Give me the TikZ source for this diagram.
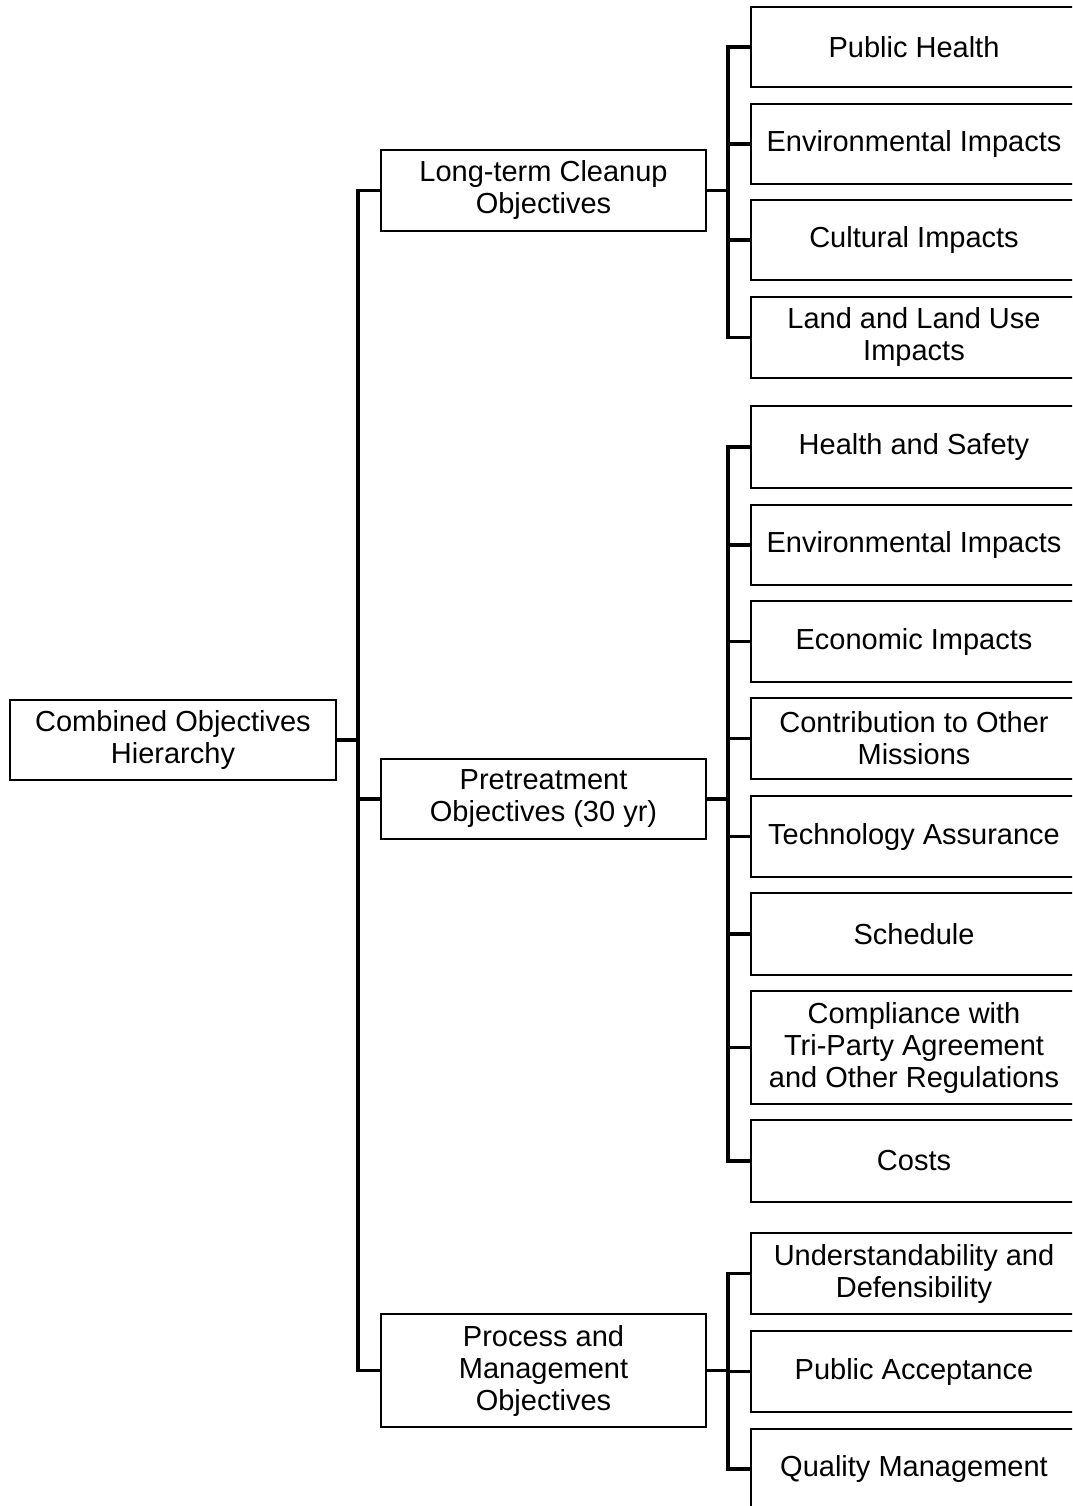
\documentclass[tikz,border=0pt]{standalone}
\usepackage{fontspec}
\setmainfont{Liberation Sans}
\begin{document}
\begin{tikzpicture}[x=1pt,y=-1pt,
  objbox/.style={draw, line width=2pt, inner sep=0pt, align=center,
    minimum width=326pt, font=\fontsize{29}{32}\selectfont},
  conn/.style={line width=3.5pt, line join=miter, line cap=rect}]
\useasboundingbox (0,0) rectangle (1072,1506);
\clip (0,0) rectangle (1072,1506);
\fill[white] (0,0) rectangle (1072,1506);

% spine positions
\coordinate (s1) at (358,0);
\coordinate (s2) at (728,0);

% root
\node[objbox, minimum height=80pt] (root) at (173,740) {Combined Objectives\\Hierarchy};

% second level
\node[objbox, minimum width=325pt, minimum height=81pt] (lt) at (543.5,190.5) {Long-term Cleanup\\Objectives};
\node[objbox, minimum width=325pt, minimum height=80pt] (pt) at (543.5,799) {Pretreatment\\Objectives (30 yr)};
\node[objbox, minimum width=325pt, minimum height=113pt] (pm) at (543.5,1370.5) {Process and\\Management\\Objectives};

% third level (right edges run past the page)
\node[objbox, minimum height=80pt] (ph)  at (914,47)     {Public Health};
\node[objbox, minimum height=80pt] (ei1) at (914,144)    {Environmental Impacts};
\node[objbox, minimum height=80pt] (ci)  at (914,240)    {Cultural Impacts};
\node[objbox, minimum height=81pt] (llu) at (914,337.5)  {Land and Land Use\\Impacts};

\node[objbox, minimum height=82pt] (hs)  at (914,447)    {Health and Safety};
\node[objbox, minimum height=80pt] (ei2) at (914,545)    {Environmental Impacts};
\node[objbox, minimum height=81pt] (eci) at (914,641.5)  {Economic Impacts};
\node[objbox, minimum height=81pt] (com) at (914,738.5)  {Contribution to Other\\Missions};
\node[objbox, minimum height=81pt] (ta)  at (914,836.5)  {Technology Assurance};
\node[objbox, minimum height=82pt] (sch) at (914,934)    {Schedule};
\node[objbox, minimum height=113pt] (cmp) at (914,1047.5) {Compliance with\\Tri-Party Agreement\\and Other Regulations};
\node[objbox, minimum height=82pt] (cst) at (914,1161)   {Costs};

\node[objbox, minimum height=81pt] (ud)  at (914,1273.5) {Understandability and\\Defensibility};
\node[objbox, minimum height=81pt] (pa)  at (914,1371.5) {Public Acceptance};
\node[objbox, minimum height=80pt] (qm)  at (914,1469)   {Quality Management};

% root to second level
\draw[conn] (root.east) -- (root.east -| s1);
\draw[conn] (lt.west) -- (lt.west -| s1) |- (pm.west);
\draw[conn] (pt.west) -- (pt.west -| s1);

% long-term cleanup branch
\draw[conn] (lt.east) -- (lt.east -| s2);
\draw[conn] (ph.west) -- (ph.west -| s2) |- (llu.west);
\foreach \n in {ei1,ci} \draw[conn] (\n.west) -- (\n.west -| s2);

% pretreatment branch
\draw[conn] (pt.east) -- (pt.east -| s2);
\draw[conn] (hs.west) -- (hs.west -| s2) |- (cst.west);
\foreach \n in {ei2,eci,com,ta,sch,cmp} \draw[conn] (\n.west) -- (\n.west -| s2);

% process and management branch
\draw[conn] (pm.east) -- (pm.east -| s2);
\draw[conn] (ud.west) -- (ud.west -| s2) |- (qm.west);
\draw[conn] (pa.west) -- (pa.west -| s2);
\end{tikzpicture}
\end{document}
